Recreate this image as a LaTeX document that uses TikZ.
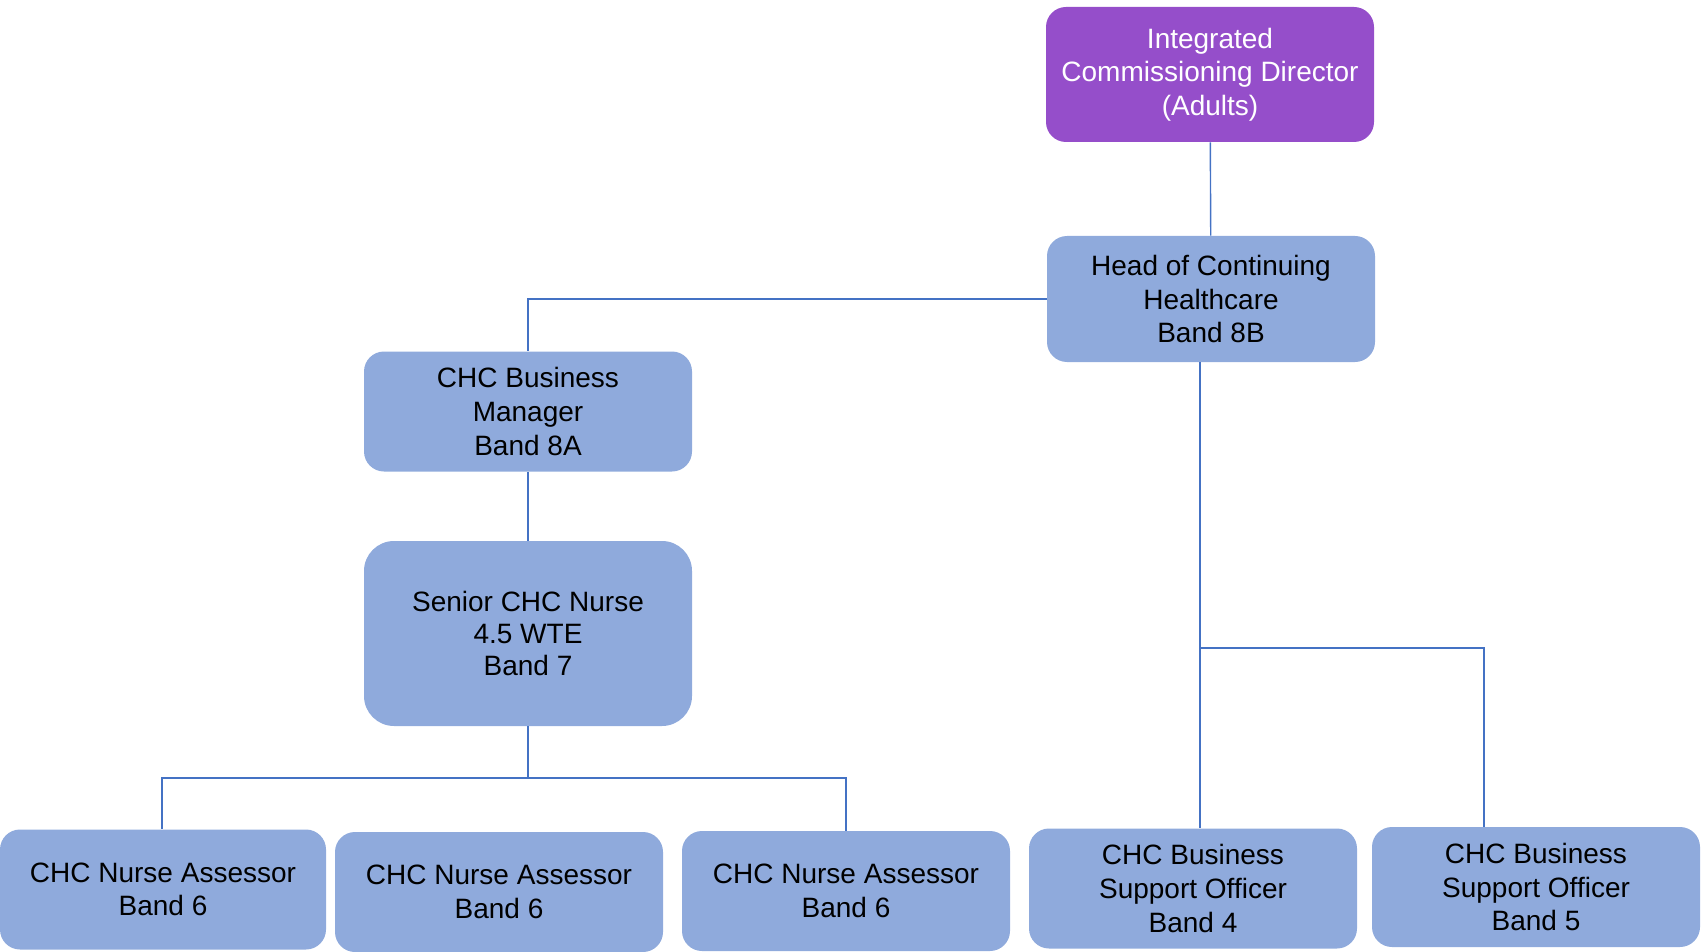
\documentclass[tikz,border=0pt]{standalone}
\usepackage{fontspec}
\setmainfont{Liberation Sans}
\usepackage{tikz}
\usetikzlibrary{calc}
\definecolor{boxblue}{HTML}{8FAADC}
\definecolor{dirpurple}{HTML}{954ECA}
\definecolor{linkblue}{HTML}{4472C4}

\begin{document}
\begin{tikzpicture}[
        x=0.5pt, y=-0.5pt,
        post/.style={fill=boxblue, rounded corners=10pt, align=center, inner sep=0pt,
            minimum width=164pt, minimum height=60pt,
            font=\fontsize{14}{16.8}\selectfont},
        bigpost/.style={post, rounded corners=15pt, minimum height=92.5pt,
            font=\fontsize{14}{16}\selectfont},
        toppost/.style={post, fill=dirpurple, text=white, minimum height=67.5pt},
        link/.style={draw=linkblue, line width=0.7pt}
    ]
    \useasboundingbox (0,0) rectangle (1701,952);
    \node[toppost] (director) at (1210,74.5) {Integrated\\Commissioning Director\\(Adults)};
    \node[post, minimum height=63pt] (head) at (1211,299) {Head of Continuing\\Healthcare\\Band 8B};
    \node[post] (bizmgr) at (528,411.5) {CHC Business\\Manager\\Band 8A};
    \node[bigpost] (senior) at (528,633.5) {Senior CHC Nurse\\4.5 WTE\\Band 7};
    \node[post, minimum width=163pt] (assess1) at (163,889.5) {CHC Nurse Assessor\\Band 6};
    \node[post] (assess2) at (499,892) {CHC Nurse Assessor\\Band 6};
    \node[post] (assess3) at (846,891) {CHC Nurse Assessor\\Band 6};
    \node[post] (support4) at (1193,888.5) {CHC Business\\Support Officer\\Band 4};
    \node[post] (support5) at (1536,887) {CHC Business\\Support Officer\\Band 5};
    % joints of the connectors
    \coordinate (nursehub) at (528,778);
    \coordinate (nurseL) at (162,778);
    \coordinate (supporthub) at (1200,648);
    \coordinate (supportR) at (1484,648);
    \draw[link] (director) -- (head);
    \draw[link] (head.west) -| (bizmgr.north);
    \draw[link] (bizmgr) -- (senior);
    \draw[link] (senior.south) -- (nursehub);
    \draw[link] (nursehub) -- (nurseL) -- (nurseL |- assess1.north);
    \draw[link] (nursehub) -| (assess3.north);
    \draw[link] (head.south -| supporthub) -- (supporthub) -- (supporthub |- support4.north);
    \draw[link] (supporthub) -- (supportR) -- (supportR |- support5.north);
\end{tikzpicture}
\end{document}
